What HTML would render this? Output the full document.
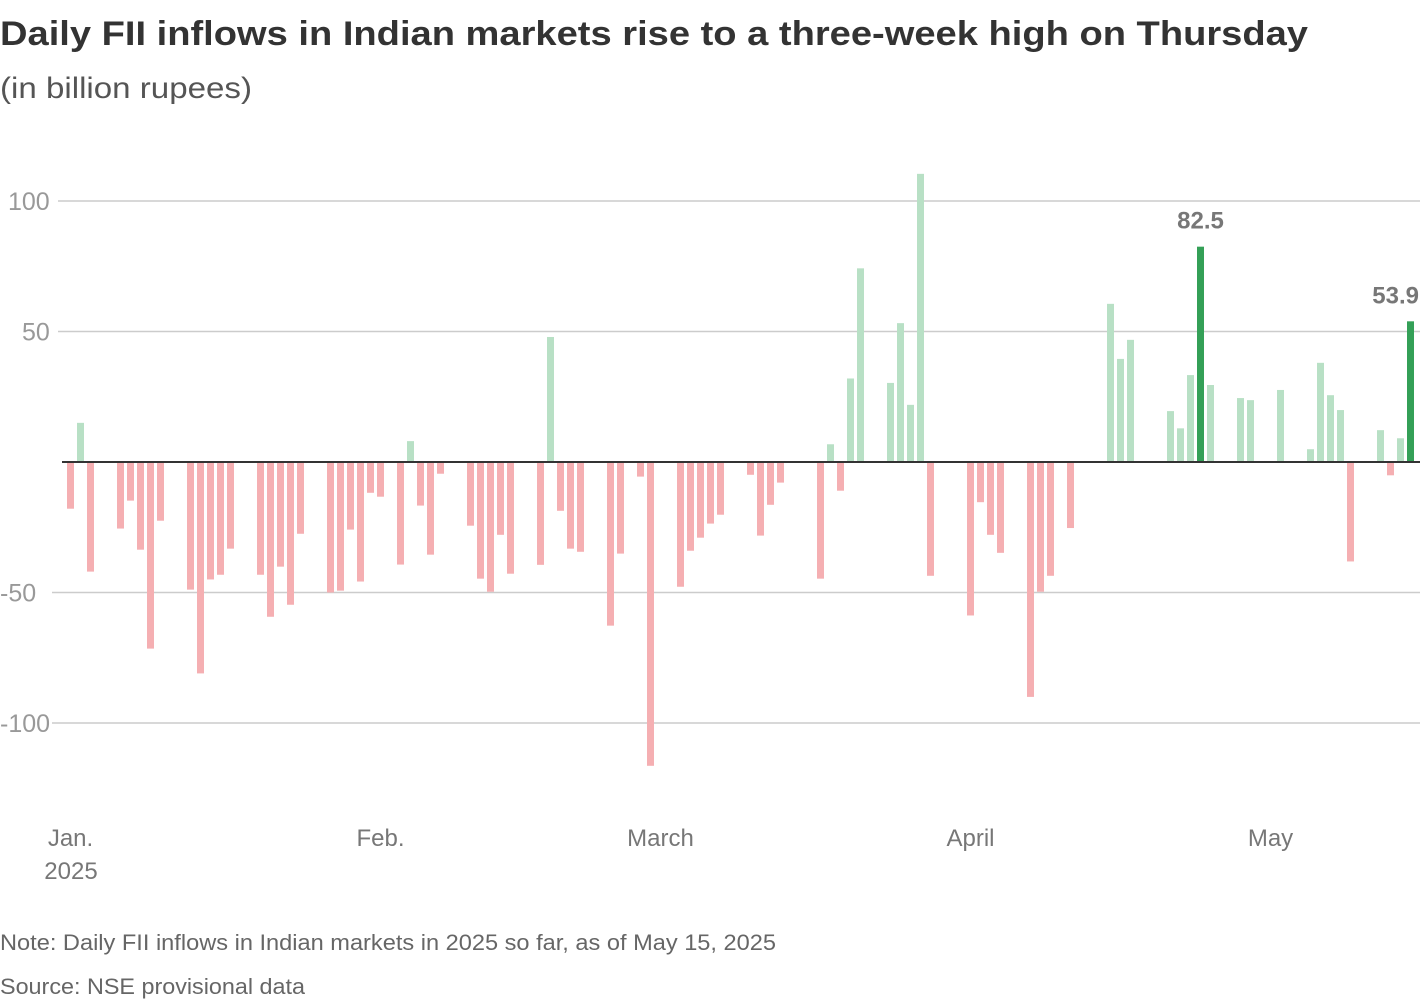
<!DOCTYPE html>
<html><head><meta charset="utf-8"><style>
html,body{margin:0;padding:0;background:#fff;}
svg{display:block;font-family:"Liberation Sans",sans-serif;}
</style></head><body>
<svg id="chart" width="1420" height="1000" viewBox="0 0 1420 1000">
<text x="0" y="45" font-size="34" font-weight="bold" fill="#333" textLength="1308" lengthAdjust="spacingAndGlyphs">Daily FII inflows in Indian markets rise to a three-week high on Thursday</text>
<text x="0" y="98" font-size="30" fill="#555" textLength="252" lengthAdjust="spacingAndGlyphs">(in billion rupees)</text>
<g id="grid"></g><g id="bars"></g><g id="xlabels"></g>
<text x="0" y="950" font-size="22" fill="#666" textLength="776" lengthAdjust="spacingAndGlyphs">Note: Daily FII inflows in Indian markets in 2025 so far, as of May 15, 2025</text>
<text x="0" y="994" font-size="22" fill="#666" textLength="305" lengthAdjust="spacingAndGlyphs">Source: NSE provisional data</text>
</svg>
<script>
const dates=["01-01","01-02","01-03","01-06","01-07","01-08","01-09","01-10","01-13","01-14","01-15","01-16","01-17","01-20","01-21","01-22","01-23","01-24","01-27","01-28","01-29","01-30","01-31","02-01","02-03","02-04","02-05","02-06","02-07","02-10","02-11","02-12","02-13","02-14","02-17","02-18","02-19","02-20","02-21","02-24","02-25","02-27","02-28","03-03","03-04","03-05","03-06","03-07","03-10","03-11","03-12","03-13","03-17","03-18","03-19","03-20","03-21","03-24","03-25","03-26","03-27","03-28","04-01","04-02","04-03","04-04","04-07","04-08","04-09","04-11","04-15","04-16","04-17","04-21","04-22","04-23","04-24","04-25","04-28","04-29","05-02","05-05","05-06","05-07","05-08","05-09","05-12","05-13","05-14","05-15"];
const values=[-17.9,15,-42,-25.5,-14.8,-33.6,-71.5,-22.5,-48.9,-81,-45,-43.2,-33.2,-43.2,-59.3,-40.1,-54.7,-27.5,-50,-49.3,-25.9,-45.8,-11.8,-13.3,-39.3,8,-16.7,-35.5,-4.5,-24.4,-44.7,-49.7,-27.9,-42.8,-39.4,47.9,-18.7,-33.2,-34.4,-62.7,-35.1,-5.6,-116.4,-47.8,-34,-29,-23.6,-20.2,-4.9,-28.2,-16.4,-7.9,-44.7,6.8,-11,32,74.2,30.3,53.2,21.9,110.4,-43.6,-58.8,-15.4,-27.9,-34.8,-90,-49.7,-43.6,-25.3,60.6,39.5,46.8,19.5,12.9,33.3,82.5,29.5,24.5,23.7,27.6,4.9,38,25.6,19.9,-38.1,12.2,-5.1,9.1,53.9];
const highlights=["04-24","05-15"];
const yTicks=[100,50,-50,-100];
const yTickLabels=["100","50","-50","-100"];
const monthLabels=["Jan.","Feb.","March","April","May"];
const monthStarts=["01-01","02-01","03-01","04-01","05-01"];
const NS="http://www.w3.org/2000/svg";
function dayIdx(s){const [m,d]=s.split("-").map(Number);return (Date.UTC(2025,m-1,d)-Date.UTC(2025,0,1))/86400000;}
function x(s){return 70.5+10*dayIdx(s);}
function y(v){return 462-2.61*v;}
function mk(tag,attrs,parent){const e=document.createElementNS(NS,tag);for(const k in attrs)e.setAttribute(k,attrs[k]);parent.appendChild(e);return e;}
const grid=document.getElementById("grid"),bars=document.getElementById("bars"),xl=document.getElementById("xlabels");
yTicks.forEach((t,i)=>{
  const l=mk("line",{x1:t<0?52:58,x2:1420,y1:y(t),y2:y(t),stroke:"#ccc","stroke-width":1.5},grid);
  
  
  const tx=mk("text",{x:t<0?0:(t>=100?8:22),y:y(t)+9,"font-size":25,fill:"#999"},grid);
  tx.textContent=yTickLabels[i];
  
  
});
dates.forEach((d,i)=>{
  const v=values[i];const hi=highlights.includes(d);
  const r=mk("rect",{x:x(d)-3.5,width:7,y:v>=0?y(v):y(0),height:Math.abs(y(v)-y(0)),fill:hi?"#34a057":(v>=0?"#b8e0c5":"#f5afb2")},bars);
  
  
  if(hi){
    const a=mk("text",{x:i===dates.length-1?1419:x(d),y:y(v)-18,"font-size":24,"font-weight":"bold",fill:"#777","text-anchor":i===dates.length-1?"end":"middle"},bars);
    a.textContent=v.toFixed(1);
    
    
  }
});
const z=mk("line",{x1:62,x2:1420,y1:y(0),y2:y(0),stroke:"#333","stroke-width":2},bars);


monthLabels.forEach((m,i)=>{
  const t=mk("text",{x:x(monthStarts[i]),y:846,"font-size":24,fill:"#777","text-anchor":"middle"},xl);
  t.textContent=m;
  
  
});
const yr=mk("text",{x:71,y:879,"font-size":24,fill:"#777","text-anchor":"middle"},xl);
yr.textContent="2025";


</script>
</body></html>
